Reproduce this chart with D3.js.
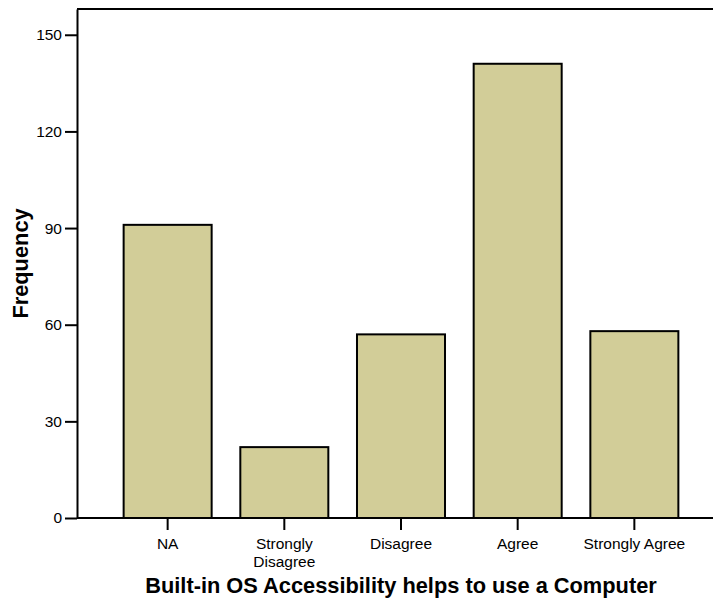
<!DOCTYPE html>
<html>
<head>
<meta charset="utf-8">
<script src="https://cdn.jsdelivr.net/npm/d3@7"></script>
<style>
  html, body { margin: 0; padding: 0; background: #fff; }
  svg { display: block; }
  text { font-family: "Liberation Sans", Arial, Helvetica, sans-serif; fill: #000; }
</style>
</head>
<body>
<svg id="chart" width="713" height="601"></svg>
<script>
const categories = ["NA", "Strongly Disagree", "Disagree", "Agree", "Strongly Agree"];
const tickLabelLines = [["NA"], ["Strongly", "Disagree"], ["Disagree"], ["Agree"], ["Strongly Agree"]];
const frequencies = [91, 22, 57, 141, 58];
const yTicks = [0, 30, 60, 90, 120, 150];
const xTitle = "Built-in OS Accessibility helps to use a Computer";
const yTitle = "Frequency";

const svg = d3.select("#chart");
const W = 713;
const plotLeft = 77, plotTop = 9, plotBottom = 518;

const x = d3.scaleBand()
  .domain(categories)
  .range([109.3, 692.7])
  .paddingInner(0.2457)
  .paddingOuter(0.1229);

const y = d3.scaleLinear().domain([0, 158]).range([plotBottom, plotTop]);

// bars
svg.append("g").selectAll("rect")
  .data(categories)
  .join("rect")
  .attr("x", d => x(d))
  .attr("y", (d, i) => y(frequencies[i]))
  .attr("width", x.bandwidth())
  .attr("height", (d, i) => y(0) - y(frequencies[i]))
  .attr("fill", "#d2cd98")
  .attr("stroke", "#000")
  .attr("stroke-width", 2);

// frame lines
svg.append("line").attr("x1", plotLeft).attr("x2", W).attr("y1", plotTop).attr("y2", plotTop)
  .attr("stroke", "#000").attr("stroke-width", 2);
svg.append("line").attr("x1", plotLeft).attr("x2", W).attr("y1", plotBottom).attr("y2", plotBottom)
  .attr("stroke", "#000").attr("stroke-width", 2);

// y axis
const gy = svg.append("g").attr("transform", `translate(${plotLeft},0)`)
  .call(d3.axisLeft(y).tickValues(yTicks).tickSize(12).tickSizeOuter(0).tickPadding(3));
gy.select(".domain").attr("stroke", "#000").attr("stroke-width", 2);
gy.selectAll(".tick line").attr("stroke", "#000").attr("stroke-width", 2);
gy.selectAll(".tick text").style("font-size", "15.5px").style("font-family", '"Liberation Sans", Arial, sans-serif');

// x axis
const gx = svg.append("g").attr("transform", `translate(0,${plotBottom})`)
  .call(d3.axisBottom(x).tickSize(12).tickSizeOuter(0).tickPadding(4));
gx.select(".domain").remove();
gx.selectAll(".tick line").attr("stroke", "#000").attr("stroke-width", 2);
gx.selectAll(".tick text")
  .style("font-size", "15.5px")
  .style("font-family", '"Liberation Sans", Arial, sans-serif')
  .each(function(d, i) {
    const t = d3.select(this);
    t.text(null).attr("y", 0).attr("dy", null);
    tickLabelLines[i].forEach((line, k) => {
      t.append("tspan").attr("x", 0).attr("y", 31 + k * 17.7).text(line);
    });
  });

// axis titles
const centerX = (x(categories[0]) + x(categories[categories.length - 1]) + x.bandwidth()) / 2;
svg.append("text")
  .attr("x", centerX).attr("y", 593)
  .attr("text-anchor", "middle")
  .style("font-size", "21.8px").style("font-weight", "bold")
  .text(xTitle);

svg.append("text")
  .attr("transform", `translate(28,${(plotTop + plotBottom) / 2}) rotate(-90)`)
  .attr("text-anchor", "middle")
  .style("font-size", "21.8px").style("font-weight", "bold")
  .text(yTitle);
</script>
</body>
</html>
